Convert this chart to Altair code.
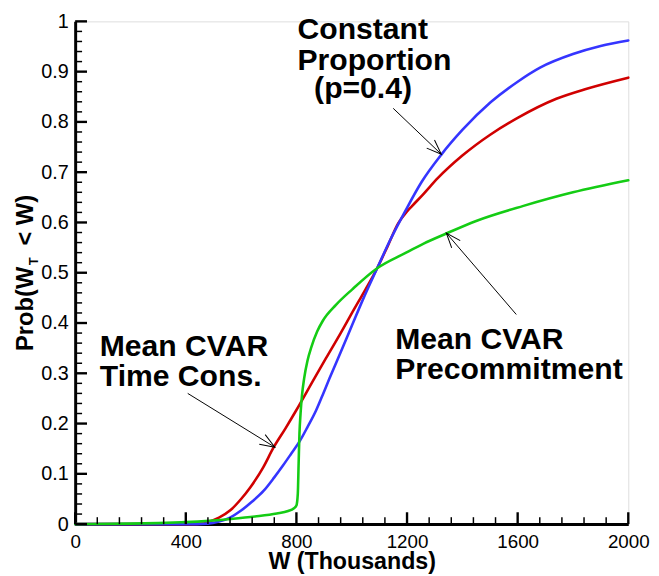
import math
import pandas as pd
import altair as alt

# ---------------- data ----------------
red_x = [0, 400, 460, 479, 520, 562, 600, 633, 680, 717, 760, 800, 865, 907, 960,
         1002, 1050, 1092, 1130, 1168, 1200, 1217, 1260, 1311, 1400, 1502, 1600,
         1740, 1850, 2000]
red_y = [0, 0.0, 0.001, 0.004, 0.013, 0.028, 0.05, 0.073, 0.113, 0.152, 0.19,
         0.227, 0.29, 0.33, 0.38, 0.421, 0.467, 0.509, 0.553, 0.598, 0.622, 0.632,
         0.657, 0.688, 0.733, 0.775, 0.808, 0.846, 0.866, 0.888]

blue_x = [0, 400, 480, 520, 560, 600, 640, 681, 720, 752, 781, 812, 840, 871, 895,
          919, 960, 1000, 1040, 1092, 1140, 1193, 1252, 1324, 1400, 1502, 1600, 1681,
          1800, 1900, 2000]
blue_y = [0, 0.0, 0.001, 0.005, 0.013, 0.027, 0.045, 0.066, 0.093, 0.117, 0.14,
          0.165, 0.193, 0.226, 0.257, 0.289, 0.342, 0.394, 0.446, 0.509, 0.566,
          0.622, 0.68, 0.735, 0.784, 0.839, 0.88, 0.908, 0.935, 0.951, 0.962]

green_x = [0, 200, 300, 400, 443, 500, 562, 650, 729, 770, 790, 800, 805, 808, 811,
           815, 820, 828, 840, 854, 875, 895, 943, 1002, 1092, 1193, 1260, 1342,
           1450, 1621, 1800, 2000]
green_y = [0, 0.001, 0.002, 0.004, 0.005, 0.007, 0.010, 0.015, 0.021, 0.026, 0.031,
           0.037, 0.06, 0.12, 0.18, 0.22, 0.255, 0.29, 0.325, 0.352, 0.383, 0.404,
           0.436, 0.467, 0.509, 0.539, 0.558, 0.578, 0.603, 0.633, 0.66, 0.684]

x_tick_values = [0, 400, 800, 1200, 1600, 2000]
y_tick_values = [0, 0.1, 0.2, 0.3, 0.4, 0.5, 0.6, 0.7, 0.8, 0.9, 1]

label_text = ["Constant", "Proportion", "(p=0.4)",
              "Mean CVAR", "Time Cons.",
              "Mean CVAR", "Precommitment"]
label_x = [804, 804, 864, 89, 89, 1157, 1157]
label_y = [0.965, 0.903, 0.847, 0.335, 0.274, 0.348, 0.289]

arrow_x1 = [1150, 1595, 407]
arrow_y1 = [0.827, 0.417, 0.26]
arrow_x2 = [1324, 1342, 722]
arrow_y2 = [0.7356, 0.579, 0.153]

# ---------------- layout ----------------
W, H = 560, 509
FONT = "Liberation Sans"
xs = alt.Scale(domain=[0, 2000], nice=False, zero=False)
ys = alt.Scale(domain=[0, 1], nice=False, zero=False)

def series(xv, yv):
    return pd.DataFrame({"x": xv, "y": yv})

x_axis = alt.Axis(values=x_tick_values, format="d", title="W (Thousands)",
                  titleFont=FONT, titleFontSize=23.5, titleFontWeight="bold",
                  titleBaseline="alphabetic", titleY=45, titleColor="black",
                  labelFont=FONT, labelFontSize=19, labelPadding=9, labelColor="black",
                  ticks=False, tickSize=0, grid=False, domainColor="black",
                  domainWidth=3, labelFlush=False)
y_axis = alt.Axis(values=y_tick_values, format="~g", title="",
                  labelFont=FONT, labelFontSize=20, labelPadding=7, labelColor="black",
                  ticks=False, tickSize=0, grid=False, domainColor="black",
                  domainWidth=3, labelFlush=False)

def X(field):
    return alt.X(field, type="quantitative", scale=xs, axis=x_axis)

def Y(field):
    return alt.Y(field, type="quantitative", scale=ys, axis=y_axis)

base_line = dict(strokeWidth=2.6, interpolate="monotone", strokeCap="round")

red = alt.Chart(series(red_x, red_y)).mark_line(color="#d00000", **base_line).encode(
    x=X("x"), y=Y("y"))
blue = alt.Chart(series(blue_x, blue_y)).mark_line(color="#3535ff", **base_line).encode(
    x=X("x"), y=Y("y"))
green = alt.Chart(series(green_x, green_y)).mark_line(color="#14cc14", **base_line).encode(
    x=X("x"), y=Y("y"))

# inward ticks
y_major = pd.DataFrame({"v": y_tick_values})
y_minor = pd.DataFrame({"v": [round(i * 0.02, 2) for i in range(51) if i % 5]})
x_major = pd.DataFrame({"v": x_tick_values})
x_minor = pd.DataFrame({"v": [i * 80 for i in range(26) if i % 5]})

def ytick(df, length, width):
    return alt.Chart(df).mark_rule(color="black", strokeWidth=width).encode(
        y=Y("v"), x=alt.value(0), x2=alt.value(length))

def xtick(df, length, width):
    return alt.Chart(df).mark_rule(color="black", strokeWidth=width).encode(
        x=X("v"), y=alt.value(H), y2=alt.value(H - length))

ticks = [ytick(y_major, 12, 2.4), ytick(y_minor, 7, 1.5),
         xtick(x_major, 12, 2.4), xtick(x_minor, 7, 1.5)]

# annotation texts
labels = alt.Chart(pd.DataFrame({"t": label_text, "x": label_x, "y": label_y})).mark_text(
    align="left", baseline="alphabetic", font=FONT, fontWeight="bold", fontSize=30.5,
    color="black").encode(x=X("x"), y=Y("y"), text="t:N")

# arrows
kx, ky = W / 2000.0, H / 1.0
angles = []
for a, b, c, d in zip(arrow_x1, arrow_y1, arrow_x2, arrow_y2):
    ang = math.degrees(math.atan2((b - d) * ky, (c - a) * kx)) % 360
    angles.append(ang)
arrows_df = pd.DataFrame({"x1": arrow_x1, "y1": arrow_y1, "x2": arrow_x2,
                          "y2": arrow_y2, "ang": angles})
arrow_lines = alt.Chart(arrows_df).mark_rule(color="black", strokeWidth=1).encode(
    x=X("x1"), y=Y("y1"), x2="x2:Q", y2="y2:Q")
arrow_heads = alt.Chart(arrows_df).mark_point(
    shape="M -1 -0.38 L 0 0 L -1 0.38", filled=False, color="black",
    strokeWidth=1, size=900, opacity=1).encode(
    x=X("x2"), y=Y("y2"), angle=alt.Angle("ang:Q", scale=None))

# y-axis title with subscript
def ytitle(txt, px, py, size):
    return alt.Chart(pd.DataFrame({"t": [txt]})).mark_text(
        align="left", baseline="alphabetic", angle=270, font=FONT, fontWeight="bold",
        fontSize=size, color="black").encode(
        text="t:N", x=alt.value(px), y=alt.value(py))

ytitles = [ytitle("Prob(W", -43, 333.7, 24), ytitle("T", -37.5, 247, 13),
           ytitle("< W)", -43, 227, 24)]

chart = alt.layer(red, blue, green, *ticks, arrow_lines, arrow_heads, labels,
                  *ytitles).properties(
    width=W, height=H,
    autosize=alt.AutoSizeParams(type="none"),
    padding={"left": 68, "top": 10, "right": 23, "bottom": 49},
).configure_view(stroke=None).configure(background="white")

chart.save("out.html", embed_options={"renderer": "svg", "actions": False})
